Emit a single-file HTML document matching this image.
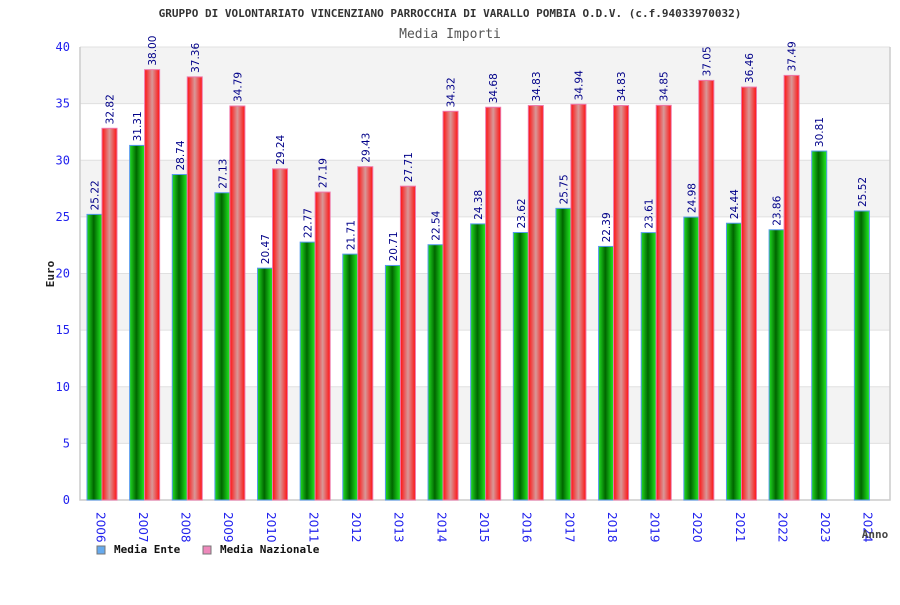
<!DOCTYPE html>
<html><head><meta charset="utf-8"><style>
body{margin:0;background:#fff;}
svg text{font-family:"DejaVu Sans Mono","Liberation Mono",monospace;}
</style></head><body>
<svg width="900" height="600" xmlns="http://www.w3.org/2000/svg">
<defs>
<linearGradient id="gG" x1="0" x2="1" y1="0" y2="0">
<stop offset="0" stop-color="#22dd22"/><stop offset="0.45" stop-color="#006600"/><stop offset="1" stop-color="#22ee22"/></linearGradient>
<linearGradient id="gR" x1="0" x2="1" y1="0" y2="0">
<stop offset="0" stop-color="#ff1111"/><stop offset="0.5" stop-color="#d89898"/><stop offset="1" stop-color="#ff1111"/></linearGradient>
</defs>
<text x="450" y="17" text-anchor="middle" font-size="11" font-weight="bold" fill="#333">GRUPPO DI VOLONTARIATO VINCENZIANO PARROCCHIA DI VARALLO POMBIA O.D.V. (c.f.94033970032)</text>
<text x="450" y="38" text-anchor="middle" font-size="13" fill="#555">Media Importi</text>
<g id="bands"></g>
<g id="yaxis"></g>
<g id="bars"></g>
<g id="xaxis"></g>
<text x="54" y="274" transform="rotate(-90 54 274)" text-anchor="middle" font-size="11" font-weight="bold" fill="#222">Euro</text>
<text x="875" y="538" text-anchor="middle" font-size="11" font-weight="bold" fill="#444">Anno</text>
<g>
<rect x="97" y="546" width="8" height="8" fill="#66aaee" stroke="#777"/>
<text x="114" y="553" font-size="11" font-weight="bold" fill="#111">Media Ente</text>
<rect x="203" y="546" width="8" height="8" fill="#ee88bb" stroke="#777"/>
<text x="220" y="553" font-size="11" font-weight="bold" fill="#111">Media Nazionale</text>
</g>
</svg>
<script>
const years=["2006","2007","2008","2009","2010","2011","2012","2013","2014","2015","2016","2017","2018","2019","2020","2021","2022","2023","2024"];
const ente=[25.22,31.31,28.74,27.13,20.47,22.77,21.71,20.71,22.54,24.38,23.62,25.75,22.39,23.61,24.98,24.44,23.86,30.81,25.52];
const nazionale=[32.82,38.00,37.36,34.79,29.24,27.19,29.43,27.71,34.32,34.68,34.83,34.94,34.83,34.85,37.05,36.46,37.49,null,null];
const yTicks=[0,5,10,15,20,25,30,35,40];
const NS="http://www.w3.org/2000/svg";
const L=80,R=890,T=47,B=500,yMax=40;
const y=v=>B-(v/yMax)*(B-T);
const gw=(R-L)/years.length;
const gx=i=>L+i*gw;
function mk(t,a,p){const e=document.createElementNS(NS,t);for(const k in a)e.setAttribute(k,a[k]);p.appendChild(e);return e;}
const bands=document.getElementById('bands'),ya=document.getElementById('yaxis'),bars=document.getElementById('bars'),xa=document.getElementById('xaxis');
for(let k=0;k<yTicks.length-1;k++){
 const r=mk('rect',{x:L,y:y(yTicks[k+1]),width:R-L,height:y(yTicks[k])-y(yTicks[k+1]),fill:(k%2==1)?'#f3f3f3':'#ffffff'},bands);
 
 
}
yTicks.forEach(t=>{
 const ln=mk('line',{x1:L,x2:R,y1:y(t),y2:y(t),stroke:'#e0e0e0'},ya);
 
 
 const tx=mk('text',{x:70,y:y(t)+4,'text-anchor':'end','font-size':12,fill:'#2222ee'},ya);
 tx.textContent=t;
 
 
});
const ax=mk('path',{d:`M${L} ${T}V${B}H${R}V${T}`,fill:'none',stroke:'#cccccc','stroke-width':1.5},ya);


const bw=15;
years.forEach((yr,i)=>{
 const x0=gx(i)+7;
 const vals=[ente[i],nazionale[i]];
 vals.forEach((v,s)=>{
  if(v==null)return;
  const bx=x0+s*bw;
  const r=mk('rect',{x:bx,y:y(v),width:bw,height:B-y(v),fill:s?'url(#gR)':'url(#gG)',stroke:s?'#ee77aa':'#5599ee','stroke-width':1},bars);
  
  
  const tx=bx+bw/2+4, ty=y(v)-4;
  const t=mk('text',{x:tx,y:ty,transform:`rotate(-90 ${tx} ${ty})`,'font-size':10.5,fill:'#000088',style:'font-family:"DejaVu Sans","Liberation Sans",sans-serif'},bars);
  t.textContent=v.toFixed(2);
  
  
 });
 const lx=gx(i)+gw/2-5, ly=512;
 const t=mk('text',{x:lx,y:ly,transform:`rotate(90 ${lx} ${ly})`,'font-size':12,fill:'#2222ee',style:'font-family:"DejaVu Sans","Liberation Sans",sans-serif'},xa);
 t.textContent=yr;
 
 
});
</script>
</body></html>
